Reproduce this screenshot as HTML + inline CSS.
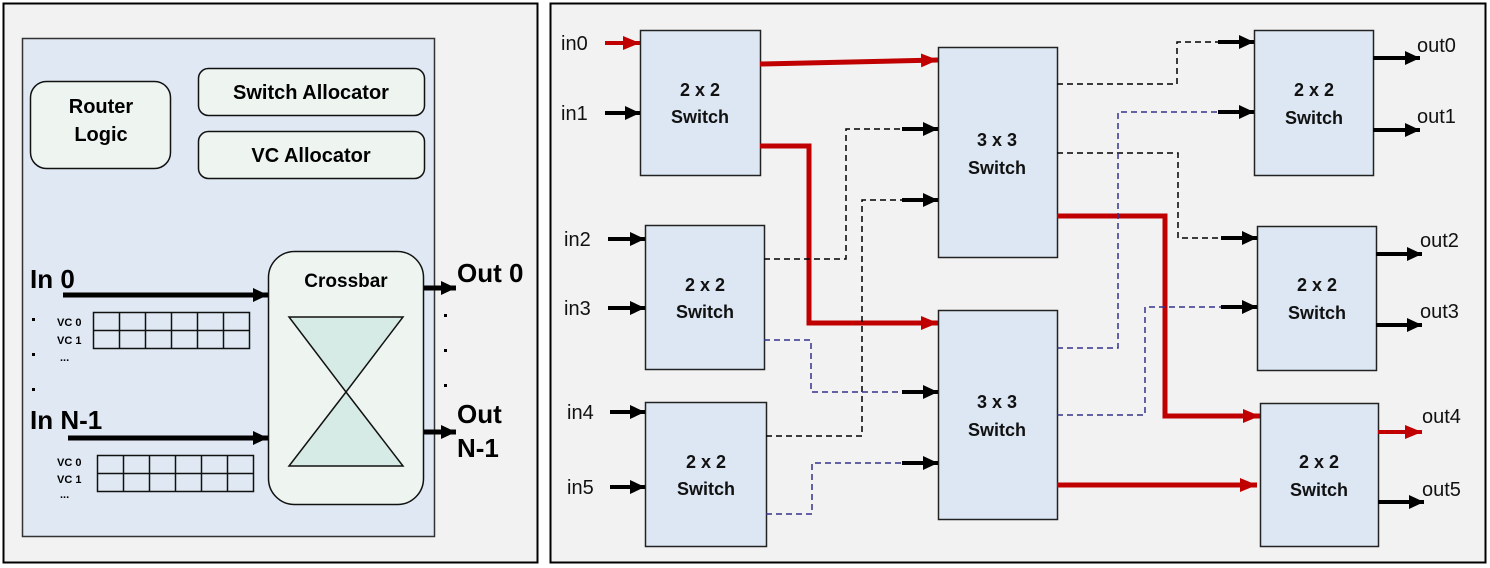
<!DOCTYPE html>
<html><head><style>body{margin:0;background:#fff}svg{display:block}</style></head><body>
<svg width="1490" height="568" viewBox="0 0 1490 568" xmlns="http://www.w3.org/2000/svg" font-family="Liberation Sans, sans-serif">
<defs>
<marker id="ab" markerUnits="userSpaceOnUse" markerWidth="16" markerHeight="16" refX="15" refY="8" orient="auto"><path d="M0,1 L15,8 L0,15 z" fill="#000"/></marker>
<marker id="ar" markerUnits="userSpaceOnUse" markerWidth="18" markerHeight="16" refX="17" refY="8" orient="auto"><path d="M0,1 L17,8 L0,15 z" fill="#c00000"/></marker>
</defs>
<rect width="1490" height="568" fill="#fff"/>
<!-- Left panel -->
<rect x="3.5" y="3.5" width="534" height="559" fill="#f2f2f2" stroke="#000" stroke-width="2"/>
<rect x="22.5" y="38.5" width="412" height="498" fill="#dfe8f3" stroke="#333" stroke-width="1.5"/>
<rect x="30.5" y="81.5" width="140" height="87" rx="16" fill="#eef5f1" stroke="#111" stroke-width="1.5"/>
<text x="101" y="113" font-size="20" font-weight="bold" text-anchor="middle">Router</text>
<text x="101" y="141" font-size="20" font-weight="bold" text-anchor="middle">Logic</text>
<rect x="198.5" y="68.5" width="226" height="47" rx="10" fill="#eef5f1" stroke="#111" stroke-width="1.5"/>
<text x="311" y="99" font-size="20" font-weight="bold" text-anchor="middle">Switch Allocator</text>
<rect x="198.5" y="131.5" width="226" height="47" rx="10" fill="#eef5f1" stroke="#111" stroke-width="1.5"/>
<text x="311" y="162" font-size="20" font-weight="bold" text-anchor="middle">VC Allocator</text>
<rect x="268.5" y="251.5" width="155" height="253" rx="26" fill="#eef5f1" stroke="#111" stroke-width="1.5"/>
<text x="346" y="287" font-size="19" font-weight="bold" text-anchor="middle">Crossbar</text>
<path d="M289,317 L403,317 L346,392 Z M289,466 L403,466 L346,392 Z" fill="#d6ebe5" stroke="#111" stroke-width="1.5"/>
<text x="30" y="288" font-size="26" font-weight="bold">In 0</text>
<text x="30" y="429" font-size="26" font-weight="bold">In N-1</text>
<line x1="63" y1="295" x2="268" y2="295" stroke="#000" stroke-width="5" marker-end="url(#ab)"/>
<line x1="68" y1="438" x2="268" y2="438" stroke="#000" stroke-width="5" marker-end="url(#ab)"/>
<line x1="424" y1="288" x2="456" y2="288" stroke="#000" stroke-width="5" marker-end="url(#ab)"/>
<line x1="424" y1="432" x2="456" y2="432" stroke="#000" stroke-width="5" marker-end="url(#ab)"/>
<text x="457" y="282" font-size="26" font-weight="bold">Out 0</text>
<text x="457" y="423" font-size="26" font-weight="bold">Out</text>
<text x="457" y="457" font-size="26" font-weight="bold">N-1</text>
<g fill="#000"><rect x="444" y="314" width="3" height="3"/><rect x="444" y="349" width="3" height="3"/><rect x="444" y="384" width="3" height="3"/>
<rect x="32" y="318" width="3" height="3"/><rect x="32" y="353" width="3" height="3"/><rect x="32" y="388" width="3" height="3"/></g>
<g font-size="11" font-weight="bold"><text x="57" y="326">VC 0</text><text x="57" y="344">VC 1</text><text x="60" y="361">...</text>
<text x="57" y="466">VC 0</text><text x="57" y="483">VC 1</text><text x="60" y="498">...</text></g>
<g fill="none" stroke="#111" stroke-width="1.5">
<rect x="93.5" y="312.5" width="156" height="36"/><line x1="93" y1="330.5" x2="249" y2="330.5"/>
<path d="M119.5,312v36M145.5,312v36M171.5,312v36M197.5,312v36M223.5,312v36"/>
<rect x="97.5" y="455.5" width="156" height="36"/><line x1="97" y1="473.5" x2="253" y2="473.5"/>
<path d="M123.5,455v36M149.5,455v36M175.5,455v36M201.5,455v36M227.5,455v36"/>
</g>
<!-- Right panel -->
<rect x="550.5" y="3.5" width="935" height="559" fill="#f2f2f2" stroke="#000" stroke-width="2"/>
<g fill="#dce7f3" stroke="#222" stroke-width="1.5">
<rect x="640.5" y="30.5" width="120" height="145"/>
<rect x="645.5" y="225.5" width="119" height="144"/>
<rect x="645.5" y="402.5" width="121" height="144"/>
<rect x="938.5" y="47.5" width="119" height="210"/>
<rect x="938.5" y="310.5" width="119" height="209"/>
<rect x="1254.5" y="30.5" width="119" height="145"/>
<rect x="1257.5" y="226.5" width="119" height="144"/>
<rect x="1260.5" y="403.5" width="118" height="143"/>
</g>
<g font-size="18" font-weight="bold" text-anchor="middle" fill="#111">
<text x="700" y="96">2 x 2</text><text x="700" y="123">Switch</text>
<text x="705" y="291">2 x 2</text><text x="705" y="318">Switch</text>
<text x="706" y="468">2 x 2</text><text x="706" y="495">Switch</text>
<text x="997" y="146">3 x 3</text><text x="997" y="174">Switch</text>
<text x="997" y="408">3 x 3</text><text x="997" y="436">Switch</text>
<text x="1314" y="96">2 x 2</text><text x="1314" y="124">Switch</text>
<text x="1317" y="291">2 x 2</text><text x="1317" y="319">Switch</text>
<text x="1319" y="468">2 x 2</text><text x="1319" y="496">Switch</text>
</g>
<g font-size="20" fill="#111">
<text x="561" y="50">in0</text><text x="561" y="120">in1</text><text x="564" y="246">in2</text>
<text x="564" y="315">in3</text><text x="567" y="419">in4</text><text x="567" y="494">in5</text>
<text x="1417" y="52">out0</text><text x="1417" y="123">out1</text><text x="1420" y="247">out2</text>
<text x="1420" y="318">out3</text><text x="1422" y="423">out4</text><text x="1422" y="496">out5</text>
</g>
<g stroke="#000" stroke-width="4">
<line x1="605" y1="113" x2="640" y2="113" marker-end="url(#ab)"/>
<line x1="608" y1="239" x2="645" y2="239" marker-end="url(#ab)"/>
<line x1="608" y1="308" x2="645" y2="308" marker-end="url(#ab)"/>
<line x1="610" y1="412" x2="645" y2="412" marker-end="url(#ab)"/>
<line x1="610" y1="487" x2="645" y2="487" marker-end="url(#ab)"/>
<line x1="1373" y1="58" x2="1420" y2="58" marker-end="url(#ab)"/>
<line x1="1373" y1="130" x2="1420" y2="130" marker-end="url(#ab)"/>
<line x1="1376" y1="254" x2="1422" y2="254" marker-end="url(#ab)"/>
<line x1="1376" y1="325" x2="1422" y2="325" marker-end="url(#ab)"/>
<line x1="1378" y1="502" x2="1424" y2="502" marker-end="url(#ab)"/>
</g>
<g stroke="#c00000" stroke-width="4" fill="none">
<line x1="605" y1="43" x2="640" y2="43" marker-end="url(#ar)"/>
<line x1="1378" y1="432" x2="1422" y2="432" marker-end="url(#ar)"/>
<path d="M760,64 L938,60" stroke-width="5" marker-end="url(#ar)"/>
<path d="M760,146 L809,146 L809,323 L938,323" stroke-width="5" marker-end="url(#ar)"/>
<path d="M1057,216 L1165,216 L1165,416 L1260,416" stroke-width="5" marker-end="url(#ar)"/>
<path d="M1057,485 L1257,485" stroke-width="5" marker-end="url(#ar)"/>
</g>
<g fill="none" stroke-width="1.5" stroke-dasharray="6,4">
<path d="M764,259 H846 V129 H925" stroke="#000"/>
<path d="M766,436 H862 V200 H925" stroke="#000"/>
<path d="M764,340 H811 V392 H925" stroke="#33338a"/>
<path d="M766,514 H812 V463 H925" stroke="#33338a"/>
<path d="M1057,84 H1177 V42 H1240" stroke="#000"/>
<path d="M1057,153 H1178 V238 H1244" stroke="#000"/>
<path d="M1057,348 H1118 V112 H1240" stroke="#33338a"/>
<path d="M1057,415 H1145 V307 H1244" stroke="#33338a"/>
</g>
<g stroke="#000" stroke-width="4">
<line x1="902" y1="129" x2="938" y2="129" marker-end="url(#ab)"/>
<line x1="902" y1="200" x2="938" y2="200" marker-end="url(#ab)"/>
<line x1="902" y1="392" x2="938" y2="392" marker-end="url(#ab)"/>
<line x1="902" y1="463" x2="938" y2="463" marker-end="url(#ab)"/>
<line x1="1218" y1="42" x2="1254" y2="42" marker-end="url(#ab)"/>
<line x1="1218" y1="112" x2="1254" y2="112" marker-end="url(#ab)"/>
<line x1="1221" y1="238" x2="1257" y2="238" marker-end="url(#ab)"/>
<line x1="1221" y1="307" x2="1257" y2="307" marker-end="url(#ab)"/>
</g>
</svg>
</body></html>
